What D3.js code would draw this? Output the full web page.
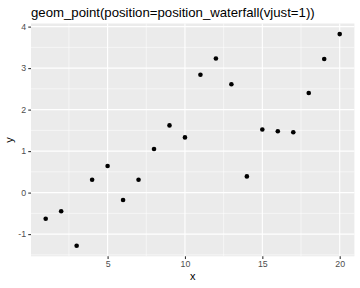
<!DOCTYPE html>
<html>
<head>
<meta charset="utf-8">
<script src="https://cdn.jsdelivr.net/npm/d3@7"></script>
<style>
  html, body { margin: 0; padding: 0; background: #fff; }
  svg { display: block; font-family: "Liberation Sans", Arial, sans-serif; }
</style>
</head>
<body>
<div id="chart"></div>
<script>
// data
const xValues = [1, 2, 3, 4, 5, 6, 7, 8, 9, 10, 11, 12, 13, 14, 15, 16, 17, 18, 19, 20];
const yValues = [-0.63, -0.45, -1.28, 0.31, 0.64, -0.18, 0.31, 1.05, 1.62, 1.33,
                 2.84, 3.23, 2.61, 0.39, 1.52, 1.48, 1.455, 2.40, 3.22, 3.82];
const xTicks = [5, 10, 15, 20];
const yTicks = [-1, 0, 1, 2, 3, 4];
const xMinor = [2.5, 7.5, 12.5, 17.5];
const yMinor = [-1.5, -0.5, 0.5, 1.5, 2.5, 3.5];
const titleText = 'geom_point(position=position_waterfall(vjust=1))';

const W = 360, H = 288;
const margin = { top: 23.5, right: 5.6, bottom: 31.7, left: 31 };
const width = W - margin.left - margin.right;
const height = H - margin.top - margin.bottom;

const data = xValues.map((x, i) => ({ x: x, y: yValues[i] }));

// ggplot-like 5% expansion
const expand = (ext) => {
  const pad = (ext[1] - ext[0]) * 0.05;
  return [ext[0] - pad, ext[1] + pad];
};

const xScale = d3.scaleLinear()
  .domain(expand(d3.extent(xValues)))
  .range([0, width]);

const yScale = d3.scaleLinear()
  .domain(expand(d3.extent(yValues)))
  .range([height, 0]);

const svg = d3.select('#chart')
  .append('svg')
  .attr('width', W)
  .attr('height', H);

// Title
svg.append('text')
  .attr('x', margin.left)
  .attr('y', 17)
  .style('font-size', '13.2px')
  .style('fill', '#000')
  .text(titleText);

const g = svg.append('g')
  .attr('transform', `translate(${margin.left},${margin.top})`);

// Panel background
g.append('rect')
  .attr('width', width)
  .attr('height', height)
  .attr('fill', '#EBEBEB');

// Minor grid
g.selectAll('.minor-x')
  .data(xMinor)
  .join('line')
  .attr('x1', d => xScale(d)).attr('x2', d => xScale(d))
  .attr('y1', 0).attr('y2', height)
  .attr('stroke', '#fff').attr('stroke-width', 0.55);

g.selectAll('.minor-y')
  .data(yMinor)
  .join('line')
  .attr('x1', 0).attr('x2', width)
  .attr('y1', d => yScale(d)).attr('y2', d => yScale(d))
  .attr('stroke', '#fff').attr('stroke-width', 0.55);

// Major grid
g.selectAll('.major-x')
  .data(xTicks)
  .join('line')
  .attr('x1', d => xScale(d)).attr('x2', d => xScale(d))
  .attr('y1', 0).attr('y2', height)
  .attr('stroke', '#fff').attr('stroke-width', 1.1);

g.selectAll('.major-y')
  .data(yTicks)
  .join('line')
  .attr('x1', 0).attr('x2', width)
  .attr('y1', d => yScale(d)).attr('y2', d => yScale(d))
  .attr('stroke', '#fff').attr('stroke-width', 1.1);

// Axes
const xAxis = d3.axisBottom(xScale)
  .tickValues(xTicks)
  .tickSize(2.75)
  .tickPadding(2.2)
  .tickFormat(d3.format('d'));

const yAxis = d3.axisLeft(yScale)
  .tickValues(yTicks)
  .tickSize(2.75)
  .tickPadding(2.2)
  .tickFormat(d => d < 0 ? '-' + Math.abs(d) : d);

const gx = g.append('g')
  .attr('transform', `translate(0,${height})`)
  .call(xAxis);

const gy = g.append('g')
  .call(yAxis);

[gx, gy].forEach(ax => {
  ax.select('.domain').remove();
  ax.selectAll('.tick line').attr('stroke', '#333333').attr('stroke-width', 1.1);
  ax.selectAll('.tick text')
    .style('font-size', '8.8px')
    .style('fill', '#4D4D4D')
    .style('font-family', '"Liberation Sans", Arial, sans-serif');
});

// Axis titles
svg.append('text')
  .attr('x', margin.left + width / 2)
  .attr('y', 280)
  .attr('text-anchor', 'middle')
  .style('font-size', '11px')
  .style('fill', '#000')
  .text('x');

svg.append('text')
  .attr('transform', `translate(13,${margin.top + height / 2}) rotate(-90)`)
  .attr('text-anchor', 'middle')
  .style('font-size', '11px')
  .style('fill', '#000')
  .text('y');

// Points
g.selectAll('.pt')
  .data(data)
  .join('circle')
  .attr('cx', d => xScale(d.x))
  .attr('cy', d => yScale(d.y))
  .attr('r', 2.3)
  .attr('fill', '#000');
</script>
</body>
</html>
